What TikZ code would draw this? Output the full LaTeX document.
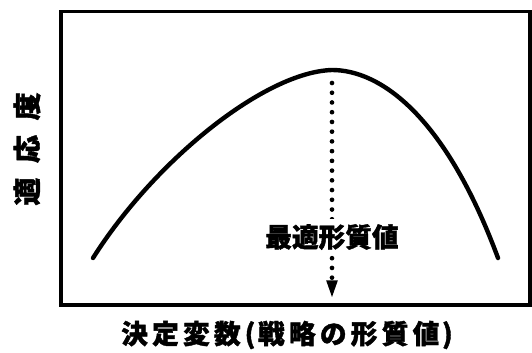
\documentclass[tikz,border=0pt]{standalone}
\usepackage{fontspec}
\newfontfamily\jpfont[FakeBold=1.5]{Noto Sans CJK JP}
\newcommand{\gap}[1]{\hspace{#1}}
\usetikzlibrary{arrows.meta}

\begin{document}
\begin{tikzpicture}[x=0.75pt,y=-0.75pt,
        frame/.style={line width=2.3pt},
        fitness/.style={line width=3.3pt,line cap=round,line join=round},
        dots/.style={line width=3.5pt,line cap=round,dash pattern=on 0pt off 7.3pt},
        lbl/.style={inner sep=0pt,font=\jpfont\bfseries}]
        \useasboundingbox (0,0) rectangle (532,353);
        \draw[frame] (61,11.5) rectangle (530,305);
        % fitness curve
        \draw[fitness] (93,258) .. controls (155,160) and (265,72) .. (332,70)
                .. controls (380,70) and (445,115) .. (498,258);
        \coordinate (peak) at (332,83);
        \coordinate (base) at (332,299);
        \draw[dots,-{Triangle[length=14pt,width=7.5pt]}] (peak) -- (base);
        \node[lbl,fill=white,inner ysep=4pt,inner xsep=2pt] (opt) at (332,237) {\fontsize{20pt}{20pt}\selectfont 最適形質値};
        \node[lbl,rotate=90] (ylab) at (27,149) {\fontsize{21pt}{21pt}\selectfont 適\gap{11pt}応\gap{11pt}度};
        \node[lbl] (xlab) at (287,335) {\fontsize{20pt}{20pt}\selectfont 決\gap{3.2pt}定\gap{3.2pt}変\gap{3.2pt}数\gap{3pt}(\gap{2pt}戦\gap{3.2pt}略\gap{3.2pt}の\gap{3.2pt}形\gap{3.2pt}質\gap{3.2pt}値\gap{2pt})};
\end{tikzpicture}
\end{document}
